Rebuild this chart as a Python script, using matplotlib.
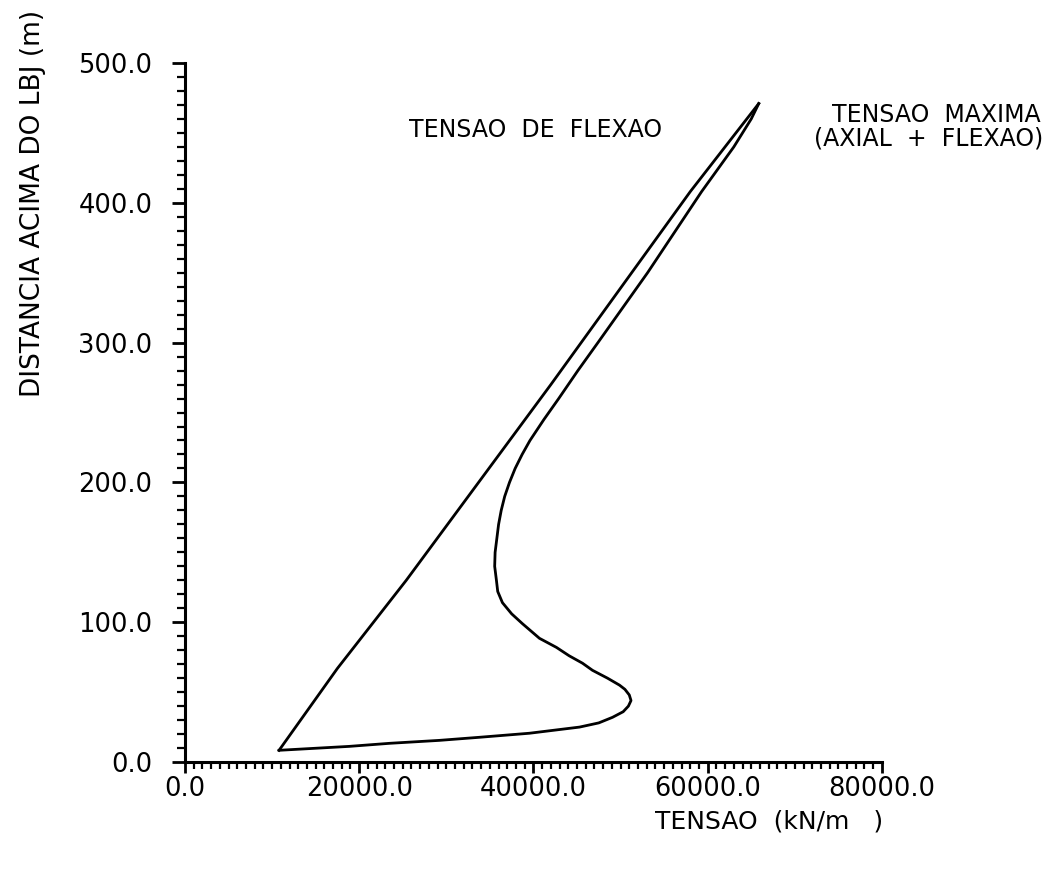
import numpy as np
import matplotlib.pyplot as plt
from matplotlib.ticker import MultipleLocator, FormatStrFormatter

# tensao de flexao (kN/m2) vs distancia acima do LBJ (m)
flex_x = [10800, 17500, 25400, 42000, 58000, 65860]
flex_y = [8.4, 67, 130, 270, 408, 471]

# tensao maxima = axial + flexao
max_x = [10800, 18850, 23500, 29200, 33790, 39540, 45290, 47500, 49080,
         50300, 50900, 51200, 51000, 50500, 49880, 48500, 46780, 45630,
         44100, 42640, 40690, 38730, 37500, 36440, 35900, 35750, 35550,
         35600, 35800, 36000, 36300, 36700, 37250, 37900, 38700, 39600,
         41200, 42900, 45100, 47400, 53100, 59300, 63000, 65000, 65550,
         65860]
max_y = [8.4, 11.2, 13.4, 15.5, 17.7, 20.6, 25, 28, 32,
         36, 40, 44, 48, 52, 55, 60, 65.6, 70.7,
         76, 82, 88.5, 99, 106, 114, 122, 130, 140,
         150, 160, 170, 180, 190, 200, 210, 220, 230,
         245, 260, 280, 300, 350, 408, 440, 460, 467,
         471]

plt.rcParams['font.family'] = ['DejaVu Sans']

fig = plt.figure(figsize=(10.6, 8.74), dpi=100)
ax = fig.add_axes([0.1745, 0.1281, 0.8320 - 0.1745, 0.9279 - 0.1281])

ax.plot(flex_x, flex_y, color='black', lw=2)
ax.plot(max_x, max_y, color='black', lw=2)

ax.set_xlim(0, 80000)
ax.set_ylim(0, 500)
ax.spines['top'].set_visible(False)
ax.spines['right'].set_visible(False)
ax.spines['left'].set_linewidth(2.2)
ax.spines['bottom'].set_linewidth(2.2)

ax.xaxis.set_major_locator(MultipleLocator(20000))
ax.xaxis.set_minor_locator(MultipleLocator(1000))
ax.yaxis.set_major_locator(MultipleLocator(100))
ax.yaxis.set_minor_locator(MultipleLocator(10))
ax.xaxis.set_major_formatter(FormatStrFormatter('%.1f'))
ax.yaxis.set_major_formatter(FormatStrFormatter('%.1f'))

ax.tick_params(axis='both', which='major', direction='out', width=2,
               labelsize=18.5)
ax.tick_params(axis='both', which='minor', direction='out', width=1.6)
ax.tick_params(axis='y', which='major', length=9.5, pad=14)
ax.tick_params(axis='y', which='minor', length=6)
ax.tick_params(axis='x', which='major', length=8, pad=2)
ax.tick_params(axis='x', which='minor', length=5)

fig.text(0.031, 1 - 203 / 874, 'DISTANCIA ACIMA DO LBJ (m)', rotation=90,
         ha='center', va='center', fontsize=19,
         family=['Liberation Sans Narrow', 'DejaVu Sans Condensed',
                 'DejaVu Sans'])
fig.text(655 / 1060, 1 - 822 / 874, 'TENSAO  (kN/m   )', ha='left',
         va='center', fontsize=18)

ax.text(25700, 452, 'TENSAO  DE  FLEXAO', ha='left', va='center',
        fontsize=17, clip_on=False)
ax.text(98200, 463, 'TENSAO  MAXIMA', ha='right', va='center',
        fontsize=17, clip_on=False)
ax.text(98500, 446, '(AXIAL  +  FLEXAO)', ha='right', va='center',
        fontsize=17, clip_on=False)

fig.savefig('out.png', dpi=100)
